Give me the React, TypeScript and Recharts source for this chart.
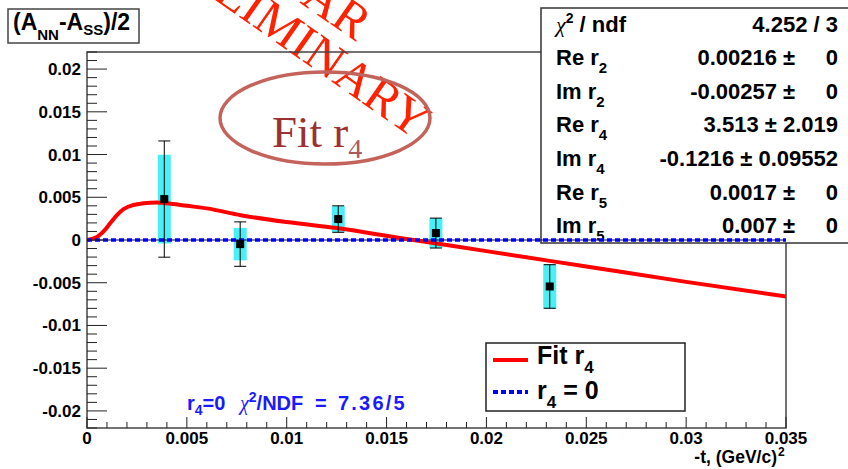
import React from 'react'
import { ComposedChart, Line, Scatter, ErrorBar, XAxis, YAxis, Customized } from 'recharts'

const W = 848
const H = 469
// axes get 1px of room each, so the plot area is 87..786 x 52..428
const MARGIN = { top: 52, right: 62, bottom: 40, left: 86 }
const PLOT_L = MARGIN.left + 1
const PLOT_T = MARGIN.top
const PLOT_R = W - MARGIN.right
const PLOT_B = H - MARGIN.bottom - 1

const SANS = '"Liberation Sans", Arial, sans-serif'
const SERIF = '"Liberation Serif", "Times New Roman", serif'

// fit curve (Fit r4)
const fitT = [0, 0.0005, 0.00083, 0.00117, 0.0015, 0.00183, 0.00233, 0.00283, 0.0035, 0.004, 0.005, 0.006, 0.0077, 0.01, 0.0125, 0.0155, 0.02, 0.025, 0.03, 0.035]
const fitA = [0, 0.00034, 0.001, 0.00198, 0.0029, 0.0036, 0.0041, 0.0043, 0.0044, 0.0043, 0.004, 0.0037, 0.0029, 0.0021, 0.0014, 0.0003, -0.0013, -0.0031, -0.0049, -0.0066]

// r4 = 0 hypothesis
const zeroT = [0, 0.035]
const zeroA = [0, 0]

// measured points
const ptT = [0.00387, 0.00767, 0.01258, 0.01747, 0.02317]
const ptA = [0.00479, -0.00048, 0.00245, 0.00081, -0.00544]
const ptStat = [0.0068, 0.0026, 0.00155, 0.00175, 0.00255]
const ptSys = [0.0052, 0.0019, 0.0015, 0.00175, 0.0026]

// axes
const xMajor = [0, 0.005, 0.01, 0.015, 0.02, 0.025, 0.03, 0.035]
const xLabels = ['0', '0.005', '0.01', '0.015', '0.02', '0.025', '0.03', '0.035']
const yMajor = [0.02, 0.015, 0.01, 0.005, 0, -0.005, -0.01, -0.015, -0.02]
const yLabels = ['0.02', '0.015', '0.01', '0.005', '0', '-0.005', '-0.01', '-0.015', '-0.02']
const MINOR_STEP = 0.001

// fit statistics box
const chi2Text = '4.252 / 3'
const statNames = ['Re r', 'Im r', 'Re r', 'Im r', 'Re r', 'Im r']
const statSubs = ['2', '2', '4', '4', '5', '5']
const statValues = ['0.00216', '-0.00257', '3.513', '-0.1216', '0.0017', '0.007']
const statErrors = ['0', '0', '2.019', '0.09552', '0', '0']

const fitData = fitT.map((t, i) => ({ t, a: fitA[i] }))
const zeroData = zeroT.map((t, i) => ({ t, a: zeroA[i] }))
const points = ptT.map((t, i) => ({ t, a: ptA[i], stat: ptStat[i], sys: ptSys[i] }))

const minorTicks = (lo: number, hi: number) => {
  const out: number[] = []
  for (let k = Math.round(lo / MINOR_STEP); k <= Math.round(hi / MINOR_STEP); k++) out.push(+(k * MINOR_STEP).toFixed(6))
  return out
}
const xTicks = minorTicks(0, 0.035)
const yTicks = minorTicks(-0.022, 0.022)

const labelFor = (v: number, major: number[], labels: string[]) => {
  const i = major.findIndex(m => Math.abs(m - v) < 1e-9)
  return i >= 0 ? labels[i] : null
}

const XTick = (props: any) => {
  const { x, y, payload } = props
  const lab = labelFor(payload.value, xMajor, xLabels)
  return (
    <g>
      <line x1={x} x2={x} y1={y} y2={y - (lab ? 11 : 6)} stroke="#222" strokeWidth={1} />
      {lab && (
        <text x={x} y={y + 16} textAnchor="middle" fontFamily={SANS} fontWeight="bold" fontSize={17} fill="#000">{lab}</text>
      )}
    </g>
  )
}

const YTick = (props: any) => {
  const { x, y, payload } = props
  const lab = labelFor(payload.value, yMajor, yLabels)
  return (
    <g>
      <line x1={x} x2={x + (lab ? 20 : 10)} y1={y} y2={y} stroke="#222" strokeWidth={1} />
      {lab && (
        <text x={x - 6} y={y + 6} textAnchor="end" fontFamily={SANS} fontWeight="bold" fontSize={17} fill="#000">{lab}</text>
      )}
    </g>
  )
}

const Empty = () => <g />
const Square = (p: any) => <rect x={p.cx - 4} y={p.cy - 4} width={8} height={8} fill="#000" />

const Frame = () => (
  <g>
    <g fontFamily={SERIF} fill="#ff2200" fontSize={50} textAnchor="end">
      <text x={356} y={42} transform="rotate(35 356 42)">STAR</text>
      <text x={415} y={140} transform="rotate(35 415 140)">PRELIMINARY</text>
    </g>
    <rect x={PLOT_L} y={PLOT_T} width={PLOT_R - PLOT_L} height={PLOT_B - PLOT_T} fill="none" stroke="#444" strokeWidth={1.5} />
  </g>
)

const StatsBox = () => {
  const rowY = (i: number) => 31.5 + 33.6 * i
  return (
    <g fontFamily={SANS} fontWeight="bold" fontSize={22} fill="#000">
      <rect x={541} y={8} width={320} height={235} fill="#fff" stroke="#333" strokeWidth={1.5} />
      <text x={556} y={rowY(0)}>
        <tspan fontFamily={SERIF} fontWeight="normal" fontStyle="italic">χ</tspan>
        <tspan fontSize={14} dy={-9}>2</tspan>
        <tspan dy={9} style={{ whiteSpace: 'pre' }}> / ndf</tspan>
      </text>
      <text x={838} y={rowY(0)} textAnchor="end">{chi2Text}</text>
      {statNames.map((n, i) => (
        <g key={i}>
          <text x={556} y={rowY(i + 1)}>
            {n}
            <tspan fontSize={15} dy={8}>{statSubs[i]}</tspan>
          </text>
          <text x={838} y={rowY(i + 1)} textAnchor="end" style={{ whiteSpace: 'pre' }}>
            {`${statValues[i]} ± ${statErrors[i].padStart(5)}`}
          </text>
        </g>
      ))}
    </g>
  )
}

const Annotations = () => (
  <g>
    {/* title */}
    <rect x={8} y={9} width={131} height={34} fill="#fff" stroke="#444" strokeWidth={1.5} />
    <text x={13} y={30} fontFamily={SANS} fontWeight="bold" fontSize={23} fill="#000">
      (A<tspan fontSize={15} dy={10}>NN</tspan><tspan dy={-10}>-A</tspan><tspan fontSize={15} dy={5}>SS</tspan><tspan dy={-5}>)/2</tspan>
    </text>

    {/* fit label */}
    <ellipse cx={325} cy={118} rx={105} ry={46} fill="none" stroke="#c4625c" strokeWidth={3.5} />
    <text x={272} y={147} fontFamily={SERIF} fontSize={45} fill="#9a3232">
      Fit r<tspan fontSize={28} dy={11} fill="#a85a5a">4</tspan>
    </text>

    {/* legend */}
    <rect x={486} y={343} width={199} height={68} fill="#fff" stroke="#222" strokeWidth={1.5} />
    <line x1={493} x2={528} y1={360} y2={360} stroke="#ff0000" strokeWidth={4} />
    <line x1={493} x2={528} y1={392} y2={392} stroke="#0000ff" strokeWidth={4} strokeDasharray="5 3" />
    <g fontFamily={SANS} fontWeight="bold" fontSize={25} fill="#000">
      <text x={537} y={364}>Fit r<tspan fontSize={17} dy={9}>4</tspan></text>
      <text x={537} y={399} style={{ whiteSpace: 'pre' }}>r<tspan fontSize={17} dy={9}>4</tspan><tspan dy={-9}> = 0</tspan></text>
    </g>

    {/* chi2 of the r4 = 0 hypothesis */}
    <text x={187} y={410} fontFamily={SANS} fontWeight="bold" fontSize={20} fill="#1a1aff" style={{ whiteSpace: 'pre' }}>
      r<tspan fontSize={14} dy={5}>4</tspan>
      <tspan dy={-5}>=0</tspan>
      <tspan x={240} fontFamily={SERIF} fontWeight="normal" fontStyle="italic">χ</tspan>
      <tspan fontSize={14} dy={-8}>2</tspan>
      <tspan dy={8}>/NDF</tspan>
      <tspan x={315}>=</tspan>
      <tspan x={338} letterSpacing={2.2}>7.36/5</tspan>
    </text>

    {/* x axis title */}
    <text x={777} y={463} textAnchor="end" fontFamily={SANS} fontWeight="bold" fontSize={17.5} fill="#000">
      -t, (GeV/c)
    </text>
    <text x={778} y={456} fontFamily={SANS} fontWeight="bold" fontSize={12} fill="#000">2</text>
  </g>
)

export default function App() {
  return (
    <div style={{ position: 'absolute', left: 0, top: 0, width: W, height: H, background: '#fff' }}>
      <ComposedChart width={W} height={H} margin={MARGIN}>
        <XAxis
          type="number" dataKey="t" domain={[0, 0.035]} ticks={xTicks} interval={0}
          height={1} tickSize={0} tickMargin={0} axisLine={false} tickLine={false}
          tick={(p: any) => <XTick {...p} />} allowDataOverflow
        />
        <YAxis
          type="number" domain={[-0.022, 0.022]} ticks={yTicks} interval={0}
          width={1} tickSize={0} tickMargin={0} axisLine={false} tickLine={false}
          tick={(p: any) => <YTick {...p} />} allowDataOverflow
        />
        <Customized component={Frame} />
        <Customized component={StatsBox} />
        <Scatter data={points} dataKey="a" shape={Empty} isAnimationActive={false}>
          <ErrorBar dataKey="sys" direction="y" width={0} stroke="#48eff4" strokeWidth={13} />
        </Scatter>
        <Line data={zeroData} dataKey="a" stroke="#000050" strokeWidth={1} dot={false} isAnimationActive={false} />
        <Line data={fitData} type="monotone" dataKey="a" stroke="#ff0000" strokeWidth={4} dot={false} isAnimationActive={false} />
        <Line data={zeroData} dataKey="a" stroke="#0000ff" strokeWidth={3.5} strokeDasharray="5 3" dot={false} isAnimationActive={false} />
        <Scatter data={points} dataKey="a" shape={Square} isAnimationActive={false}>
          <ErrorBar dataKey="stat" direction="y" width={6} stroke="#000" strokeWidth={1} />
        </Scatter>
        <Customized component={Annotations} />
      </ComposedChart>
    </div>
  )
}
